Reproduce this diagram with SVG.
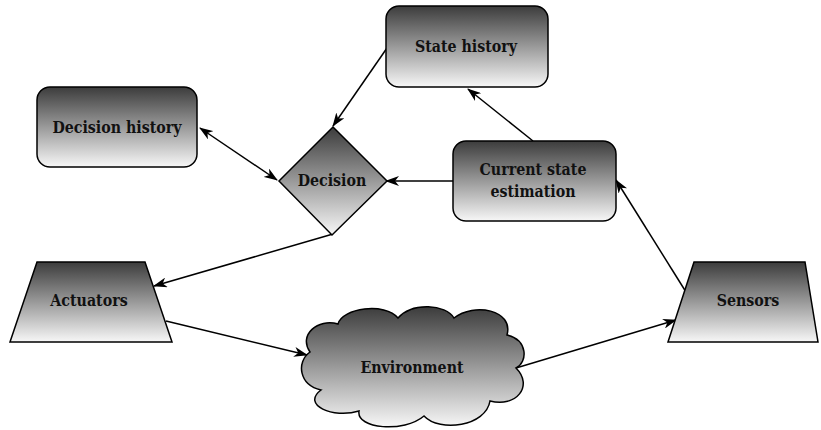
<svg xmlns="http://www.w3.org/2000/svg" width="821" height="430" viewBox="0 0 821 430">
<style>
.shape{fill:url(#g);stroke:#000;stroke-width:1.5}
.lbl{font-family:'DejaVu Serif',serif;font-stretch:condensed;font-weight:700;font-size:15.8px;fill:#111;text-anchor:middle}
.conn{stroke:#000;stroke-width:1.5;fill:none}
</style>
<defs>
<linearGradient id="g" x1="0" y1="0" x2="0" y2="1">
<stop offset="0" stop-color="#3c3c3c"/>
<stop offset="1" stop-color="#f7f7f7"/>
</linearGradient>
<marker id="ah" viewBox="0 0 14 10" refX="13" refY="5" markerWidth="14" markerHeight="10" markerUnits="userSpaceOnUse" orient="auto-start-reverse">
<path d="M0,0 L14,5 L0,10 L4,5 Z" fill="#000"/>
</marker>
</defs>
<g id="connectors">
<line class="conn" x1="387" y1="48" x2="333" y2="126" marker-end="url(#ah)"/>
<line class="conn" x1="200" y1="128" x2="277" y2="180" marker-start="url(#ah)" marker-end="url(#ah)"/>
<line class="conn" x1="453" y1="181" x2="386" y2="181" marker-end="url(#ah)"/>
<line class="conn" x1="533" y1="141" x2="468" y2="89" marker-end="url(#ah)"/>
<line class="conn" x1="333" y1="234" x2="154" y2="286" marker-end="url(#ah)"/>
<line class="conn" x1="166" y1="321" x2="307" y2="355" marker-end="url(#ah)"/>
<line class="conn" x1="516" y1="368" x2="676" y2="320" marker-end="url(#ah)"/>
<line class="conn" x1="686" y1="292" x2="616" y2="180" marker-end="url(#ah)"/>
</g>
<g id="state-history">
<rect class="shape" x="386" y="6" width="162" height="81" rx="13"/>
<text class="lbl" x="466" y="52">State history</text>
</g>
<g id="decision-history">
<rect class="shape" x="37" y="87" width="160" height="80" rx="13"/>
<text class="lbl" x="117" y="133">Decision history</text>
</g>
<g id="decision">
<polygon class="shape" points="333,127 387,181 332,235 279,181"/>
<text class="lbl" x="332" y="186">Decision</text>
</g>
<g id="current-state">
<rect class="shape" x="453" y="141" width="163" height="80" rx="13"/>
<text class="lbl" x="533" y="175">Current state</text>
<text class="lbl" x="533" y="197">estimation</text>
</g>
<g id="actuators">
<polygon class="shape" points="37,262 145,262 172,342 10,342"/>
<text class="lbl" x="89" y="306">Actuators</text>
</g>
<g id="sensors">
<polygon class="shape" points="694,262 805,262 818,342 668,342"/>
<text class="lbl" x="748" y="306">Sensors</text>
</g>
<g id="environment">
<path class="shape" d="M310,352 C298,335 318,318 338,324 C342,308 385,302 398,318 C412,302 446,304 454,318 C474,302 514,310 507,335 C528,340 528,362 516,368 C534,386 516,408 490,401 C486,426 440,433 424,416 C404,433 356,429 359,411 C333,419 301,405 321,390 C299,385 296,362 310,352 Z"/>
<text class="lbl" x="412" y="373">Environment</text>
</g>
</svg>
